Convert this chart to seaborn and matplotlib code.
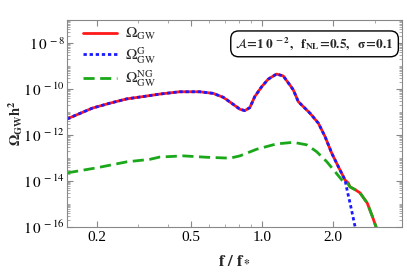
import numpy as np
import pandas as pd
import matplotlib
matplotlib.use("Agg")
import matplotlib.pyplot as plt
import matplotlib.ticker as mticker
import seaborn as sns

# values (f / f_*, log10 of Omega h^2)
f_total = [0.15, 0.164, 0.192, 0.227, 0.268, 0.314, 0.37, 0.449, 0.546, 0.622,
           0.686, 0.757, 0.807, 0.847, 0.889, 0.933, 0.998, 1.064, 1.153, 1.231,
           1.314, 1.358, 1.426, 1.60, 1.734, 1.85, 1.976, 2.106, 2.248, 2.32, 2.36,
           2.48, 2.6, 2.79, 2.94, 3.04, 3.12]
log_total = [-11.3, -11.13, -10.83, -10.62, -10.43, -10.33, -10.22, -10.12, -10.12,
             -10.19, -10.36, -10.67, -10.88, -10.94, -10.81, -10.33, -9.90, -9.57,
             -9.35, -9.43, -9.83, -10.04, -10.55, -11.06, -11.49, -12.07, -12.80,
             -13.38, -13.96, -14.09, -14.26, -14.38, -14.52, -14.96, -15.57, -16.0,
             -16.4]

f_gauss = [0.15, 0.164, 0.192, 0.227, 0.268, 0.314, 0.37, 0.449, 0.546, 0.622,
           0.686, 0.757, 0.807, 0.847, 0.889, 0.933, 0.998, 1.064, 1.153, 1.231,
           1.314, 1.358, 1.426, 1.60, 1.734, 1.85, 1.976, 2.106, 2.248, 2.30, 2.36,
           2.48, 2.55]
log_gauss = [-11.3, -11.13, -10.83, -10.62, -10.43, -10.33, -10.22, -10.12, -10.12,
             -10.19, -10.36, -10.67, -10.88, -10.94, -10.81, -10.33, -9.90, -9.57,
             -9.35, -9.43, -9.83, -10.04, -10.55, -11.06, -11.49, -12.07, -12.80,
             -13.38, -13.96, -14.46, -14.96, -16.0, -16.6]

f_ng = [0.15, 0.2, 0.268, 0.336, 0.37, 0.465, 0.583, 0.733, 0.807, 0.951, 1.153,
        1.358, 1.549, 1.706, 1.88, 2.04, 2.18, 2.30, 2.36, 2.48, 2.6, 2.79, 2.94,
        3.04, 3.12]
log_ng = [-13.65, -13.43, -13.17, -13.06, -12.96, -12.91, -12.97, -13.01, -12.91,
          -12.62, -12.39, -12.32, -12.43, -12.73, -13.16, -13.60, -13.96, -14.09,
          -14.26, -14.38, -14.52, -14.96, -15.57, -16.0, -16.4]

x_ticks = [0.2, 0.5, 1.0, 2.0]
x_ticklabels = ["0.2", "0.5", "1.0", "2.0"]
y_ticks = [1e-16, 1e-14, 1e-12, 1e-10, 1e-8]

sns.set_style("ticks")
plt.rcParams["font.family"] = ["Liberation Serif", "DejaVu Serif"]
plt.rcParams["mathtext.fontset"] = "stix"

fig = plt.figure(figsize=(4.07, 2.75), dpi=100)
ax = fig.add_axes([0.165, 0.175, 0.823, 0.752])

df_tot = pd.DataFrame({"f": f_total, "omega": 10.0 ** np.array(log_total)})
df_g = pd.DataFrame({"f": f_gauss, "omega": 10.0 ** np.array(log_gauss)})
df_ng = pd.DataFrame({"f": f_ng, "omega": 10.0 ** np.array(log_ng)})

sns.lineplot(data=df_tot, x="f", y="omega", ax=ax, color="#ff1a1a", lw=2.0,
             sort=False, label=r"$\Omega_{\rm GW}$")
sns.lineplot(data=df_g, x="f", y="omega", ax=ax, color="#1a1aff", lw=2.0,
             sort=False, label=r"$\Omega^{\rm G}_{\rm GW}$")
ax.lines[-1].set_dashes([1.2, 1.0])
sns.lineplot(data=df_ng, x="f", y="omega", ax=ax, color="#1aa81a", lw=2.0,
             sort=False, label=r"$\Omega^{\rm NG}_{\rm GW}$")
ax.lines[-1].set_dashes([4, 2])

ax.set_xscale("log")
ax.set_yscale("log")
ax.set_xlim(0.15, 3.92)
ax.set_ylim(1e-16, 1e-7)

ax.set_xticks(x_ticks)
ax.set_xticklabels(x_ticklabels)
ax.xaxis.set_minor_locator(mticker.LogLocator(base=10, subs=np.arange(1, 10)))
ax.xaxis.set_minor_formatter(mticker.NullFormatter())
ax.set_yticks(y_ticks)
ax.yaxis.set_major_formatter(mticker.FuncFormatter(
    lambda v, p: r"$1\,0^{\,%d}$" % int(round(np.log10(v)))))
ax.yaxis.set_minor_locator(mticker.LogLocator(base=10, subs=np.arange(1, 10), numticks=30))
ax.yaxis.set_minor_formatter(mticker.NullFormatter())

ax.tick_params(which="both", direction="in", top=True, right=True, colors="#888888",
               labelcolor="black", labelsize=11, pad=3)
ax.tick_params(axis="y", pad=2)
ax.tick_params(which="major", length=4, width=0.8)
ax.tick_params(which="minor", length=2, width=0.5)
for s in ax.spines.values():
    s.set_color("#888888")
    s.set_linewidth(0.8)

ax.set_xlabel(r"$\mathbf{f\ /\ f_*}$", fontsize=12, labelpad=6)
ax.set_ylabel(r"$\mathbf{\Omega_{GW}h^2}$", fontsize=10.5)
ax.yaxis.set_label_coords(-0.125, 0.5)

ax.legend(loc="upper left", bbox_to_anchor=(0.03, 1.0), frameon=False, fontsize=11,
          handlelength=2.2, borderaxespad=0.2, labelspacing=0.18, handletextpad=0.5,
          borderpad=0.2)

ax.text(0.975, 0.885, r"$\mathbf{\mathcal{A}\!=\!1\,0^{\ -2},\ \ f_{NL}\!=\!0.5,\ \ \sigma\!=\!0.1}$",
        transform=ax.transAxes, ha="right", va="center", fontsize=9.5,
        bbox=dict(boxstyle="round,pad=0.35,rounding_size=0.6", fc="white", ec="black", lw=1.0))

fig.savefig("out.png", dpi=100)
